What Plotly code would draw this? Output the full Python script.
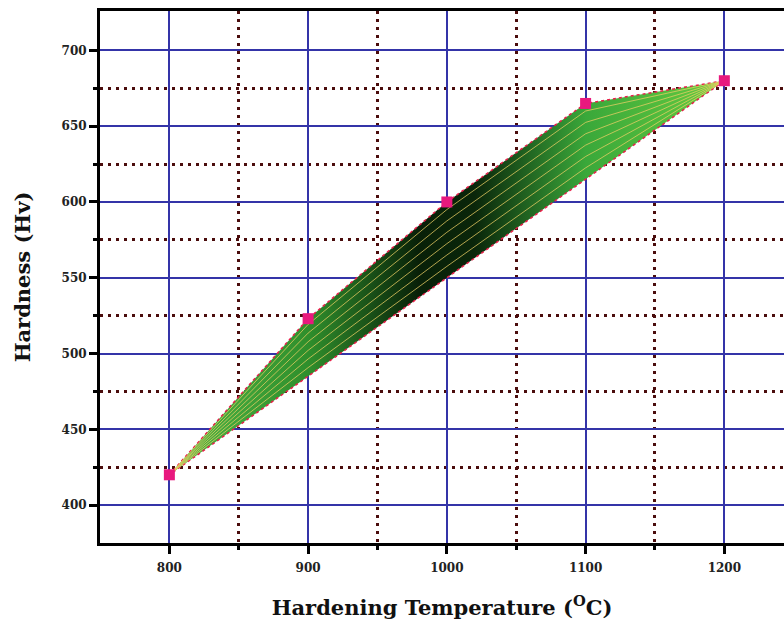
import plotly.graph_objects as go

# Data
temps = [800, 900, 1000, 1100, 1200]
hardness = [420, 523, 600, 665, 680]
x_ticks = [800, 900, 1000, 1100, 1200]
y_ticks = [400, 450, 500, 550, 600, 650, 700]
x_minor = [850, 950, 1050, 1150]
y_minor = [425, 475, 525, 575, 625, 675]

# chord from first to last point (lower boundary of shaded band)
x0, x1 = temps[0], temps[-1]
y0, y1 = hardness[0], hardness[-1]
chord = [y0 + (y1 - y0) * (t - x0) / (x1 - x0) for t in temps]

fig = go.Figure()

# shaded band between curve and chord
fig.add_trace(go.Scatter(
    x=temps + temps[::-1],
    y=hardness + chord[::-1],
    fill="toself",
    mode="lines",
    line=dict(color="#e8204a", width=1.5, dash="dot"),
    fillgradient=dict(type="horizontal",
                      colorscale=[[0, "#4fb848"], [0.25, "#2f8f2c"], [0.45, "#082008"],
                                  [0.55, "#0a260a"], [0.75, "#3aa83a"], [1, "#66cc40"]]),
    hoverinfo="skip", showlegend=False))

# decorative inner contour lines
for f in [0.15, 0.3, 0.45, 0.6, 0.75, 0.9]:
    fig.add_trace(go.Scatter(
        x=temps,
        y=[c + f * (h - c) for c, h in zip(chord, hardness)],
        mode="lines",
        line=dict(color="rgba(235,205,100,0.75)", width=1),
        hoverinfo="skip", showlegend=False))

# data markers
fig.add_trace(go.Scatter(
    x=temps, y=hardness, mode="markers",
    marker=dict(symbol="square", size=11, color="#e8197e"),
    showlegend=False))

tickfont = dict(family="DejaVu Serif", size=12, color="#222", weight="bold")
titlefont = dict(family="DejaVu Serif", size=21, color="#111", weight="bold")

fig.update_layout(
    width=784, height=635,
    margin=dict(l=100, r=0, t=11, b=92),
    plot_bgcolor="white", paper_bgcolor="white",
    xaxis=dict(
        range=[750, 1243], tickvals=x_ticks,
        ticktext=[str(v) for v in x_ticks],
        tickfont=tickfont, ticklabelstandoff=4,
        showline=True, linecolor="black", linewidth=3, mirror=True,
        ticks="outside", ticklen=8, tickwidth=3, tickcolor="black",
        showgrid=True, gridcolor="#3434a8", gridwidth=2,
        zeroline=False,
        minor=dict(tickmode="array", tickvals=x_minor, ticks="outside", ticklen=4,
                   tickwidth=3, tickcolor="black", showgrid=True, gridcolor="#4a0c0c",
                   gridwidth=2.5, griddash="3px,5px"),
        title=dict(text="Hardening Temperature (<sup>O</sup>C)",
                   font=titlefont, standoff=26),
    ),
    yaxis=dict(
        range=[375, 726], tickvals=y_ticks,
        ticktext=[str(v) for v in y_ticks],
        tickfont=tickfont,
        showline=True, linecolor="black", linewidth=3,
        ticks="outside", ticklen=8, tickwidth=3, tickcolor="black",
        showgrid=True, gridcolor="#3434a8", gridwidth=2,
        zeroline=False,
        minor=dict(tickmode="array", tickvals=y_minor, ticks="outside", ticklen=4,
                   tickwidth=3, tickcolor="black", showgrid=True, gridcolor="#4a0c0c",
                   gridwidth=2.5, griddash="3px,5px"),
        title=dict(text="Hardness (Hv)", font=titlefont, standoff=26),
    ),
)

fig.write_html("out.html")
